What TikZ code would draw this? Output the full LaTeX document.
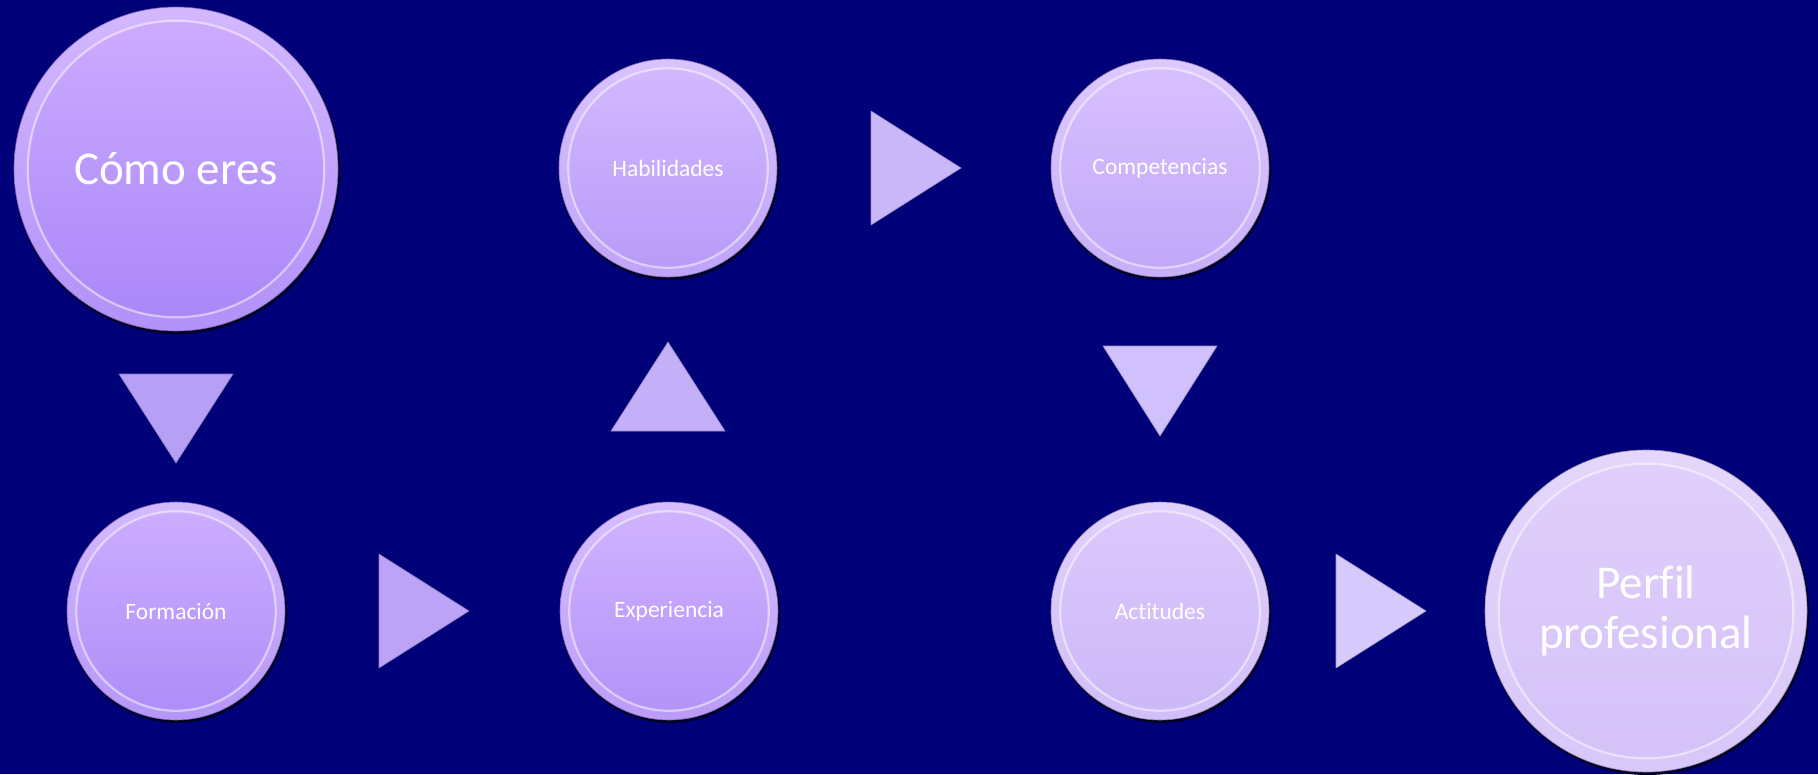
\documentclass[tikz,border=0pt]{standalone}
\usepackage{fontspec}
\setmainfont{Carlito}[RawFeature={-liga;-clig;-dlig}]
\begin{document}
\begin{tikzpicture}
\definecolor{bgc}{HTML}{000078}
\definecolor{aT}{HTML}{CCABFF}\definecolor{aB}{HTML}{AB87F8}
\definecolor{bT}{HTML}{CCADFF}\definecolor{bB}{HTML}{AF8DF8}
\definecolor{cT}{HTML}{D0B2FF}\definecolor{cB}{HTML}{B493F8}
\definecolor{dT}{HTML}{D3B8FF}\definecolor{dB}{HTML}{B99BF8}
\definecolor{eT}{HTML}{D8C0FF}\definecolor{eB}{HTML}{C2A8F8}
\definecolor{fT}{HTML}{DCC8FC}\definecolor{fB}{HTML}{CDB8F8}
\definecolor{gT}{HTML}{E0CFFB}\definecolor{gB}{HTML}{D4C2F8}
\definecolor{t1}{HTML}{B6A0F6}\definecolor{t2}{HTML}{BCA3F7}
\definecolor{t3}{HTML}{C4B0F8}\definecolor{t4}{HTML}{C9B7FA}
\definecolor{t5}{HTML}{D0C0FB}\definecolor{t6}{HTML}{D6C9FB}
\tikzset{
  label/.style={circle, inner sep=0pt, text=white, align=center},
  tri/.style={line width=0.6pt, line join=round},
}
\newcommand\bubble[9]{% name,x,y,r,top,bottom,fontsize,skip,text
  \fill[black!70!bgc] (#2pt+1pt,-#3pt-2pt) circle (#4pt+1pt);
  \shade[top color=#5!85!white, bottom color=#6!92!white] (#2pt,-#3pt) circle (#4pt);
  \draw[#6!70!black, line width=0.6pt] (#2pt,-#3pt) circle (#4pt);
  \shade[top color=#5, bottom color=#6] (#2pt,-#3pt) circle (0.915*#4pt);
  \draw[white, opacity=0.5, line width=2.2pt] (#2pt,-#3pt) circle (0.915*#4pt);
  \node[label, minimum size=2*#4pt, font=\fontsize{#7pt}{#8pt}\selectfont] (#1) at (#2pt,-#3pt) {#9};
}
\useasboundingbox (0,0) rectangle (1818pt,-774pt);
\fill[bgc] (0,0) rectangle (1818pt,-774pt);
% bubbles
\bubble{como}{176}{169}{162}{aT}{aB}{47}{52}{Cómo eres}
\bubble{form}{176}{611}{109}{bT}{bB}{23.5}{26}{Formación}
\bubble{expe}{669}{611}{109}{cT}{cB}{23.5}{26}{Experiencia}
\bubble{habi}{668}{168}{109}{dT}{dB}{23.5}{26}{Habilidades}
\bubble{comp}{1160}{168}{109}{eT}{eB}{23.5}{26}{Competencias}
\bubble{acti}{1160}{611}{109}{fT}{fB}{23.5}{26}{Actitudes}
\bubble{perf}{1646}{611}{161}{gT}{gB}{47}{50}{Perfil\\profesional}
% triangles
\filldraw[tri, fill=t1, draw=t1!75!black] (119pt,-374pt) -- (233pt,-374pt) -- (176pt,-463pt) -- cycle;
\filldraw[tri, fill=t2, draw=t2!75!black] (379pt,-554pt) -- (469pt,-611pt) -- (379pt,-668pt) -- cycle;
\filldraw[tri, fill=t3, draw=t3!75!black] (611pt,-431pt) -- (725pt,-431pt) -- (668pt,-342pt) -- cycle;
\filldraw[tri, fill=t4, draw=t4!75!black] (871pt,-111pt) -- (961pt,-168pt) -- (871pt,-225pt) -- cycle;
\filldraw[tri, fill=t5, draw=t5!75!black] (1103pt,-346pt) -- (1217pt,-346pt) -- (1160pt,-436pt) -- cycle;
\filldraw[tri, fill=t6, draw=t6!75!black] (1336pt,-554pt) -- (1426pt,-611pt) -- (1336pt,-668pt) -- cycle;
\end{tikzpicture}
\end{document}
